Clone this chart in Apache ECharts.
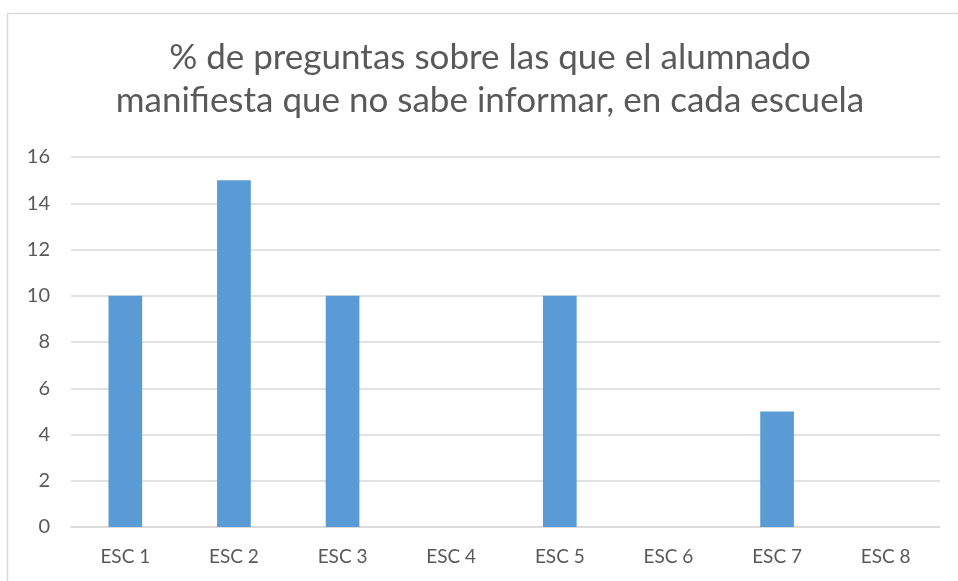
<!DOCTYPE html>
<html>
<head>
<meta charset="utf-8">
<script src="https://cdn.jsdelivr.net/npm/echarts@6/dist/echarts.min.js"></script>
<style>
html,body{margin:0;padding:0;background:#fff;}
#chart{width:958px;height:581px;}
</style>
</head>
<body>
<div id="chart"></div>
<script>
var titleText = '% de preguntas sobre las que el alumnado\nmanifiesta que no sabe informar, en cada escuela';
var categories = ['ESC 1','ESC 2','ESC 3','ESC 4','ESC 5','ESC 6','ESC 7','ESC 8'];
var values = [10, 15, 10, 0, 10, 0, 5, 0];
var yTicks = {min: 0, max: 16, interval: 2};

var chart = echarts.init(document.getElementById('chart'), null, {renderer: 'canvas'});
chart.setOption({
  backgroundColor: '#ffffff',
  animation: false,
  graphic: [{
    type: 'rect',
    shape: {x: 7.5, y: 13.5, width: 1200, height: 1200},
    style: {fill: 'none', stroke: '#d9d9d9', lineWidth: 1.5},
    silent: true
  }],
  title: {
    text: titleText,
    left: 485,
    top: 31,
    textAlign: 'center',
    textStyle: {
      fontFamily: 'Lato',
      fontSize: 35,
      fontWeight: 'normal',
      color: '#595959',
      lineHeight: 43
    }
  },
  grid: {left: 71, right: 18, top: 157, bottom: 54, containLabel: false},
  xAxis: {
    type: 'category',
    data: categories,
    axisLine: {show: true, lineStyle: {color: '#d9d9d9', width: 1.5}},
    axisTick: {show: false},
    axisLabel: {
      fontFamily: 'Lato',
      fontSize: 19,
      color: '#595959',
      margin: 20
    }
  },
  yAxis: {
    type: 'value',
    min: yTicks.min,
    max: yTicks.max,
    interval: yTicks.interval,
    axisLine: {show: false},
    axisTick: {show: false},
    splitLine: {lineStyle: {color: '#d9d9d9', width: 1.5}},
    axisLabel: {
      fontFamily: 'Lato',
      fontSize: 20,
      color: '#595959',
      margin: 21
    }
  },
  series: [{
    type: 'bar',
    data: values,
    barWidth: '31%',
    itemStyle: {color: '#5b9bd5'}
  }]
});
</script>
</body>
</html>
